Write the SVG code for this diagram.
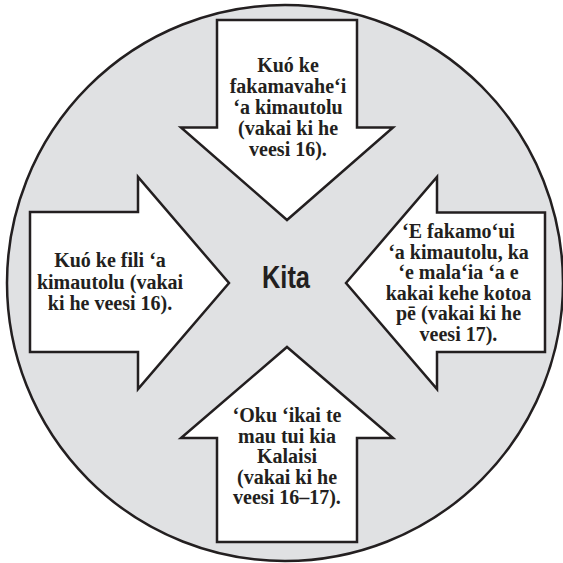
<svg xmlns="http://www.w3.org/2000/svg" width="563" height="563" viewBox="0 0 563 563">
<style>
.bg{fill:#ffffff}
.disc{fill:#e0e1e3;stroke:#231f20;stroke-width:2.5}
.arrow{fill:#ffffff;stroke:#231f20;stroke-width:2.5;stroke-linejoin:miter}
.t{font-family:"Liberation Serif","Times New Roman",serif;font-weight:bold;font-size:20px;fill:#231f20;text-anchor:middle}
.c{font-family:"Liberation Sans",Arial,sans-serif;font-weight:bold;font-size:31px;fill:#231f20;text-anchor:middle}
</style>
<rect class="bg" x="0" y="0" width="563" height="563"/>
<g id="circle">
<circle class="disc" cx="285" cy="283" r="278"/>
</g>
<g id="connectors"></g>
<g id="center">
<text class="c" x="286" y="288" textLength="48" lengthAdjust="spacingAndGlyphs">Kita</text>
</g>
<g id="arrow-top">
<path class="arrow" d="M217,20 H357 V127.5 H393 L287,220 L181,127.5 H217 Z"/>
<text class="t" x="288" y="72">Kuó ke</text>
<text class="t" x="288" y="93">fakamavahe‘i</text>
<text class="t" x="288" y="114">‘a kimautolu</text>
<text class="t" x="288" y="135">(vakai ki he</text>
<text class="t" x="288" y="156">veesi 16).</text>
</g>
<g id="arrow-left">
<path class="arrow" d="M30,212 H138 V177 L229,283 L138,389 V352 H30 Z"/>
<text class="t" x="110" y="267">Kuó ke fili ‘a</text>
<text class="t" x="110" y="288.5">kimautolu (vakai</text>
<text class="t" x="110" y="310">ki he veesi 16).</text>
</g>
<g id="arrow-right">
<path class="arrow" d="M346,283 L437,177 V212.5 H545 V352 H437 V389 Z"/>
<text class="t" x="458.5" y="238">‘E fakamo‘ui</text>
<text class="t" x="458.5" y="258.5">‘a kimautolu, ka</text>
<text class="t" x="458.5" y="279">‘e mala‘ia ‘a e</text>
<text class="t" x="458.5" y="299.5">kakai kehe kotoa</text>
<text class="t" x="458.5" y="320">pē (vakai ki he</text>
<text class="t" x="458.5" y="340.5">veesi 17).</text>
</g>
<g id="arrow-bottom">
<path class="arrow" d="M287,347 L393,438 H357 V542 H217 V438 H181 Z"/>
<text class="t" x="287" y="422">‘Oku ‘ikai te</text>
<text class="t" x="287" y="442.5">mau tui kia</text>
<text class="t" x="287" y="463">Kalaisi</text>
<text class="t" x="287" y="483.5">(vakai ki he</text>
<text class="t" x="287" y="504">veesi 16–17).</text>
</g>
</svg>
